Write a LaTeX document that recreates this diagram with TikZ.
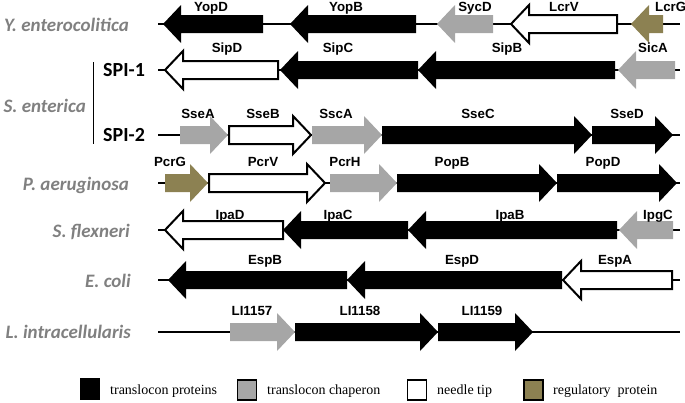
\documentclass[tikz,border=0pt]{standalone}
\usepackage{fontspec}
\setmainfont{Liberation Serif}
\newfontfamily\genefont{Liberation Sans}
\newfontfamily\orgfont{Carlito}

\definecolor{chapgray}{RGB}{166,166,166}
\definecolor{regolive}{RGB}{140,129,82}
\definecolor{orggray}{RGB}{128,128,128}

\newcommand\bodyh{9}
\newcommand\headh{19}
\newcommand\headl{18}

\newcommand\rgene[4]{\path[#1] (#2,#4-\bodyh) -- (#3-\headl,#4-\bodyh) -- (#3-\headl,#4-\headh) -- (#3,#4) -- (#3-\headl,#4+\headh) -- (#3-\headl,#4+\bodyh) -- (#2,#4+\bodyh) -- cycle;}
\newcommand\lgene[4]{\path[#1] (#3,#4-\bodyh) -- (#2+\headl,#4-\bodyh) -- (#2+\headl,#4-\headh) -- (#2,#4) -- (#2+\headl,#4+\headh) -- (#2+\headl,#4+\bodyh) -- (#3,#4+\bodyh) -- cycle;}

\tikzset{
  translocon/.style={fill=black},
  chaperon/.style={fill=chapgray},
  needletip/.style={fill=white,draw=black,line width=2pt,line join=miter},
  regulatory/.style={fill=regolive},
  backbone/.style={draw=black,line width=1.8pt},
  glabel/.style={font=\genefont\bfseries\fontsize{13.3}{15}\selectfont,anchor=base,inner sep=0pt},
  orglabel/.style={font=\orgfont\bfseries\itshape\fontsize{19}{23}\selectfont,text=orggray,anchor=base east,inner sep=0pt},
  spilabel/.style={font=\orgfont\bfseries\fontsize{20}{24}\selectfont,anchor=base west,inner sep=0pt},
  legbox/.style={draw=black,line width=1.2pt,minimum width=19pt,minimum height=20pt,inner sep=0pt},
  legtext/.style={font=\fontsize{14}{16}\selectfont,anchor=base west,inner sep=0pt}
}

\begin{document}
\begin{tikzpicture}[x=1pt,y=-1pt]
    \useasboundingbox (0,0) rectangle (685,402);

    \node[orglabel] (yent) at (129,31) {Y. enterocolitica};
    \node[orglabel] (sent) at (86,112) {S. enterica};
    \node[spilabel] (spi1) at (103,76) {SPI-1};
    \node[spilabel] (spi2) at (103,141) {SPI-2};
    \node[orglabel] (paer) at (129,190) {P. aeruginosa};
    \node[orglabel] (sfle) at (130,237) {S. flexneri};
    \node[orglabel] (ecol) at (131,287) {E. coli};
    \node[orglabel] (lint) at (131,338) {L. intracellularis};

    \coordinate (bartop) at (93,62);
    \coordinate (barbot) at (93,144);
    \draw[line width=1pt] (bartop) -- (barbot);

    \coordinate (r1a) at (158,24);
    \coordinate (r1b) at (680,24);
    \coordinate (r2a) at (158,70);
    \coordinate (r2b) at (680,70);
    \coordinate (r3a) at (158,135);
    \coordinate (r3b) at (680,135);
    \coordinate (r4a) at (158,183);
    \coordinate (r4b) at (680,183);
    \coordinate (r5a) at (158,230);
    \coordinate (r5b) at (680,230);
    \coordinate (r6a) at (158,280);
    \coordinate (r6b) at (680,280);
    \coordinate (r7a) at (158,332);
    \coordinate (r7b) at (680,332);
    \draw[backbone] (r1a) -- (r1b);
    \draw[backbone] (r2a) -- (r2b);
    \draw[backbone] (r3a) -- (r3b);
    \draw[backbone] (r4a) -- (r4b);
    \draw[backbone] (r5a) -- (r5b);
    \draw[backbone] (r6a) -- (r6b);
    \draw[backbone] (r7a) -- (r7b);

    \lgene{translocon}{163}{263}{24}
    \lgene{translocon}{290}{416}{24}
    \lgene{chaperon}{437}{493}{24}
    \lgene{needletip}{511}{617}{24}
    \lgene{regulatory}{631}{663}{24}
    \node[glabel] (yopD) at (211,11) {YopD};
    \node[glabel] (yopB) at (346,11) {YopB};
    \node[glabel] (sycD) at (475,11) {SycD};
    \node[glabel] (lcrV) at (564,11) {LcrV};
    \node[glabel,anchor=base west] (lcrG) at (655,11) {LcrG};

    \lgene{needletip}{165}{278}{70}
    \lgene{translocon}{280}{418}{70}
    \lgene{translocon}{418}{615}{70}
    \lgene{chaperon}{618}{675}{70}
    \node[glabel] (sipD) at (227,52) {SipD};
    \node[glabel] (sipC) at (338,52) {SipC};
    \node[glabel] (sipB) at (507,52) {SipB};
    \node[glabel] (sicA) at (653,52) {SicA};

    \rgene{chaperon}{180}{228}{135}
    \rgene{needletip}{229}{311}{135}
    \rgene{chaperon}{312}{382}{135}
    \rgene{translocon}{382}{592}{135}
    \rgene{translocon}{592}{673}{135}
    \node[glabel] (sseA) at (198,118) {SseA};
    \node[glabel] (sseB) at (263,118) {SseB};
    \node[glabel] (sscA) at (336,118) {SscA};
    \node[glabel] (sseC) at (478,118) {SseC};
    \node[glabel] (sseD) at (627,118) {SseD};

    \rgene{regulatory}{165}{208}{183}
    \rgene{needletip}{209}{325}{183}
    \rgene{chaperon}{330}{397}{183}
    \rgene{translocon}{397}{557}{183}
    \rgene{translocon}{557}{677}{183}
    \node[glabel] (pcrG) at (170,166) {PcrG};
    \node[glabel] (pcrV) at (263,166) {PcrV};
    \node[glabel] (pcrH) at (345,166) {PcrH};
    \node[glabel] (popB) at (452,166) {PopB};
    \node[glabel] (popD) at (603,166) {PopD};

    \lgene{needletip}{165}{283}{230}
    \lgene{translocon}{283}{408}{230}
    \lgene{translocon}{408}{617}{230}
    \lgene{chaperon}{619}{673}{230}
    \node[glabel] (ipaD) at (230,219) {IpaD};
    \node[glabel] (ipaC) at (338,219) {IpaC};
    \node[glabel] (ipaB) at (510,219) {IpaB};
    \node[glabel] (ipgC) at (658,219) {IpgC};

    \lgene{translocon}{168}{347}{280}
    \lgene{translocon}{347}{562}{280}
    \lgene{needletip}{563}{672}{280}
    \node[glabel] (espB) at (265,264) {EspB};
    \node[glabel] (espD) at (462,264) {EspD};
    \node[glabel] (espA) at (615,264) {EspA};

    \rgene{chaperon}{230}{295}{332}
    \rgene{translocon}{295}{438}{332}
    \rgene{translocon}{438}{533}{332}
    \node[glabel] (li57) at (252,315) {LI1157};
    \node[glabel] (li58) at (360,315) {LI1158};
    \node[glabel] (li59) at (482,315) {LI1159};

    \node[legbox,fill=black] (keytrans) at (90,389) {};
    \node[legbox,fill=chapgray] (keychap) at (247,390) {};
    \node[legbox,fill=white] (keytip) at (417,390) {};
    \node[legbox,fill=regolive] (keyreg) at (533.5,390) {};
    \node[legtext] (keytranst) at (110,394) {translocon proteins};
    \node[legtext] (keychapt) at (267,394) {translocon chaperon};
    \node[legtext] (keytipt) at (437,394) {needle tip};
    \node[legtext] (keyregt) at (553,394) {regulatory\ \ protein};
\end{tikzpicture}
\end{document}
